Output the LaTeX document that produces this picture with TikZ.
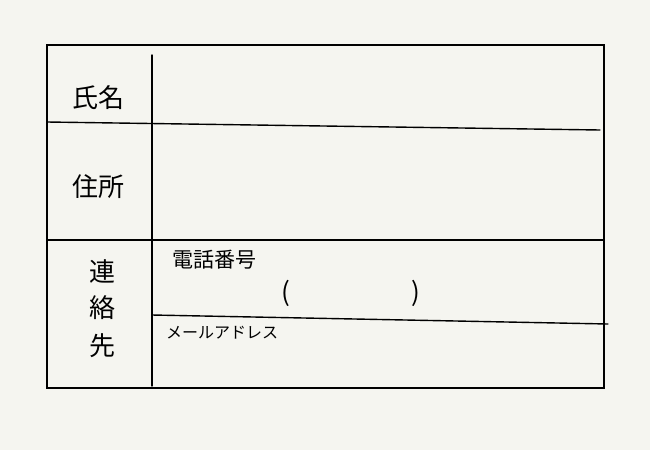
\documentclass[tikz,border=0pt]{standalone}
\usepackage{fontspec}
\newfontfamily\cjk{Noto Sans CJK JP}
\definecolor{paper}{HTML}{F5F5F0}
\tikzset{
    line/.style={line width=1.4pt, line cap=round},
    label/.style={font=\cjk\fontsize{26}{26}\selectfont, inner sep=0pt},
    small/.style={font=\cjk\fontsize{16}{16}\selectfont, inner sep=0pt}
}
\begin{document}
\begin{tikzpicture}[x=1pt,y=-1pt]
    % Background and frame
    \fill[paper] (0,0) rectangle (650,450);
    \useasboundingbox (0,0) rectangle (650,450);
    \coordinate (tl) at (47,45);
    \coordinate (br) at (604,388);
    \draw[line] (tl) rectangle (br);

    % Grid lines
    \coordinate (colTop) at (152,55);
    \coordinate (colBot) at (152,386);
    \draw[line] (colTop) -- (colBot);
    \coordinate (row1L) at (47,122);
    \coordinate (row1R) at (600,130);
    \draw[line] (row1L) -- (row1R);
    \coordinate (row2L) at (47,240);
    \coordinate (row2R) at (604,240);
    \draw[line] (row2L) -- (row2R);
    \coordinate (row3L) at (152,315);
    \coordinate (row3R) at (608,324);
    \draw[line] (row3L) -- (row3R);

    % Labels
    \node[label] (name) at (98,98) {氏名};
    \node[label] (addr) at (98,187) {住所};
    \node[label] (c1) at (102,272) {連};
    \node[label] (c2) at (102,308) {絡};
    \node[label] (c3) at (102,346) {先};
    \node[label, font=\cjk\fontsize{21}{21}\selectfont] (tel) at (214,260) {電話番号};
    \node[label] (lp) at (286,293) {(};
    \node[label] (rp) at (416,293) {)};
    \node[small] (mail) at (222,333) {メールアドレス};
\end{tikzpicture}
\end{document}
